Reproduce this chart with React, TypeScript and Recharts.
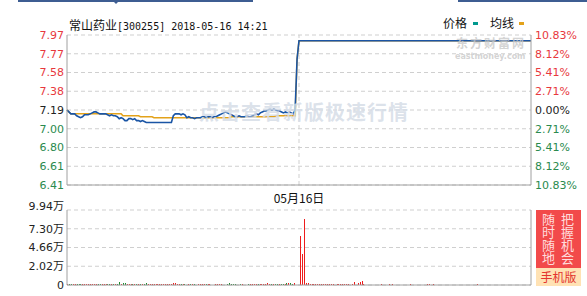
import React from "react"
import {
  LineChart,
  Line,
  BarChart,
  Bar,
  Cell,
  XAxis,
  YAxis,
  CartesianGrid,
  ReferenceLine,
} from "recharts"

// 分时数据：每分钟一个点（09:30-11:30 / 13:00-15:00，共241个）
const price = [
  7.19, 7.17, 7.15, 7.15, 7.15, 7.13, 7.12, 7.11, 7.12, 7.14,
  7.14, 7.14, 7.15, 7.16, 7.17, 7.17, 7.16, 7.15, 7.15, 7.15,
  7.15, 7.14, 7.13, 7.14, 7.13, 7.13, 7.12, 7.10, 7.11, 7.10,
  7.08, 7.08, 7.10, 7.10, 7.09, 7.10, 7.08, 7.08, 7.07, 7.08,
  7.07, 7.06, 7.06, 7.06, 7.06, 7.06, 7.06, 7.06, 7.06, 7.06,
  7.06, 7.06, 7.06, 7.06, 7.06, 7.13, 7.15, 7.15, 7.15, 7.14,
  7.15, 7.14, 7.11, 7.12, 7.11, 7.11, 7.10, 7.11, 7.11, 7.11,
  7.12, 7.12, 7.11, 7.12, 7.12, 7.11, 7.12, 7.12, 7.13, 7.14,
  7.15, 7.16, 7.17, 7.16, 7.15, 7.14, 7.13, 7.12, 7.12, 7.13,
  7.12, 7.12, 7.12, 7.13, 7.12, 7.12, 7.13, 7.14, 7.15, 7.14,
  7.16, 7.17, 7.18, 7.18, 7.19, 7.20, 7.19, 7.20, 7.19, 7.18,
  7.18, 7.17, 7.16, 7.17, 7.16, 7.17, 7.16, 7.15, 7.19, 7.72,
  7.91, 7.91, 7.91, 7.91, 7.91, 7.91, 7.91, 7.91, 7.91, 7.91,
  7.91, 7.91, 7.91, 7.91, 7.91, 7.91, 7.91, 7.91, 7.91, 7.91,
  7.91, 7.91, 7.91, 7.91, 7.91, 7.91, 7.91, 7.91, 7.91, 7.91,
  7.91, 7.91, 7.91, 7.91, 7.91, 7.91, 7.91, 7.91, 7.91, 7.91,
  7.91, 7.91, 7.91, 7.91, 7.91, 7.91, 7.91, 7.91, 7.91, 7.91,
  7.91, 7.91, 7.91, 7.91, 7.91, 7.91, 7.91, 7.91, 7.91, 7.91,
  7.91, 7.91, 7.91, 7.91, 7.91, 7.91, 7.91, 7.91, 7.91, 7.91,
  7.91, 7.91, 7.91, 7.91, 7.91, 7.91, 7.91, 7.91, 7.91, 7.91,
  7.91, 7.91, 7.91, 7.91, 7.91, 7.91, 7.91, 7.91, 7.91, 7.91,
  7.91, 7.91, 7.91, 7.91, 7.91, 7.91, 7.91, 7.91, 7.91, 7.91,
  7.91, 7.91, 7.91, 7.91, 7.91, 7.91, 7.91, 7.91, 7.91, 7.91,
  7.91, 7.91, 7.91, 7.91, 7.91, 7.91, 7.91, 7.91, 7.91, 7.91,
  7.91,
]

const avgPrice = [
  7.19, 7.17, 7.15, 7.15, 7.15, 7.15, 7.15, 7.15, 7.15, 7.15,
  7.15, 7.15, 7.15, 7.15, 7.15, 7.15, 7.15, 7.15, 7.15, 7.15,
  7.15, 7.15, 7.15, 7.15, 7.15, 7.15, 7.15, 7.15, 7.15, 7.13,
  7.13, 7.13, 7.13, 7.13, 7.13, 7.13, 7.13, 7.13, 7.12, 7.12,
  7.12, 7.12, 7.12, 7.12, 7.12, 7.11, 7.11, 7.11, 7.11, 7.11,
  7.11, 7.11, 7.11, 7.11, 7.11, 7.11, 7.11, 7.11, 7.11, 7.11,
  7.11, 7.11, 7.11, 7.11, 7.11, 7.11, 7.11, 7.11, 7.11, 7.11,
  7.11, 7.11, 7.11, 7.11, 7.11, 7.11, 7.11, 7.11, 7.11, 7.11,
  7.11, 7.11, 7.11, 7.11, 7.11, 7.12, 7.12, 7.12, 7.12, 7.12,
  7.12, 7.12, 7.12, 7.12, 7.12, 7.12, 7.12, 7.12, 7.12, 7.12,
  7.12, 7.12, 7.12, 7.12, 7.12, 7.12, 7.12, 7.12, 7.13, 7.13,
  7.13, 7.13, 7.13, 7.13, 7.13, 7.13, 7.13, 7.13, 7.13, 7.72,
  7.91, 7.91, 7.91, 7.91, 7.91, 7.91, 7.91, 7.91, 7.91, 7.91,
  7.91, 7.91, 7.91, 7.91, 7.91, 7.91, 7.91, 7.91, 7.91, 7.91,
  7.91, 7.91, 7.91, 7.91, 7.91, 7.91, 7.91, 7.91, 7.91, 7.91,
  7.91, 7.91, 7.91, 7.91, 7.91, 7.91, 7.91, 7.91, 7.91, 7.91,
  7.91, 7.91, 7.91, 7.91, 7.91, 7.91, 7.91, 7.91, 7.91, 7.91,
  7.91, 7.91, 7.91, 7.91, 7.91, 7.91, 7.91, 7.91, 7.91, 7.91,
  7.91, 7.91, 7.91, 7.91, 7.91, 7.91, 7.91, 7.91, 7.91, 7.91,
  7.91, 7.91, 7.91, 7.91, 7.91, 7.91, 7.91, 7.91, 7.91, 7.91,
  7.91, 7.91, 7.91, 7.91, 7.91, 7.91, 7.91, 7.91, 7.91, 7.91,
  7.91, 7.91, 7.91, 7.91, 7.91, 7.91, 7.91, 7.91, 7.91, 7.91,
  7.91, 7.91, 7.91, 7.91, 7.91, 7.91, 7.91, 7.91, 7.91, 7.91,
  7.91, 7.91, 7.91, 7.91, 7.91, 7.91, 7.91, 7.91, 7.91, 7.91,
  7.91,
]

// 成交量（手）
const volume = [
  1500, 1300, 1200, 1300, 1100, 1300, 1200, 1400, 1100, 1300,
  1200, 1000, 1300, 1200, 1300, 1100, 1200, 1300, 1000, 1200,
  1100, 1300, 1200, 1000, 1100, 1300, 1200, 4400, 1300, 2800,
  2600, 1300, 1200, 1500, 1400, 1100, 1200, 1300, 1000, 1200,
  1100, 2600, 1300, 1200, 1000, 1100, 1200, 1300, 1000, 1100,
  1200, 1000, 1100, 1200, 1000, 2600, 2400, 1200, 1100, 1300,
  1000, 1200, 300, 1100, 1200, 1000, 1300, 300, 1100, 1200,
  1000, 1300, 1100, 1200, 1000, 300, 200, 1200, 1100, 1300,
  1000, 300, 200, 1100, 2600, 1200, 1000, 1100, 300, 200,
  1200, 1100, 300, 200, 1100, 1300, 1000, 1200, 1100, 1000,
  1300, 1200, 1000, 1100, 3200, 1200, 1000, 1100, 1300, 1000,
  1200, 1100, 1000, 1300, 2600, 2800, 2600, 1300, 2800, 300,
  300, 65000, 41000, 87000, 2600, 2400, 1300, 1100, 1000, 1200,
  1100, 1000, 1200, 1300, 1000, 1100, 1200, 1000, 1100, 0,
  1000, 1200, 1100, 1000, 1200, 1100, 1000, 0, 1100, 4000,
  0, 2600, 4000, 5300, 1200, 0, 0, 0, 0, 0,
  0, 0, 0, 1100, 0, 0, 0, 1100, 0, 1000,
  0, 0, 0, 0, 0, 0, 0, 0, 1100, 0,
  0, 0, 0, 0, 0, 0, 0, 1100, 1000, 0,
  1100, 0, 0, 0, 0, 0, 0, 0, 0, 0,
  0, 0, 0, 0, 0, 0, 0, 0, 0, 0,
  0, 0, 0, 1100, 0, 0, 0, 0, 0, 0,
  0, 0, 0, 0, 0, 0, 0, 0, 0, 0,
  0, 0, 0, 0, 0, 0, 0, 0, 0, 0,
  0,
]

const prevClose = 7.19

const priceTicks = [7.97, 7.775, 7.58, 7.385, 7.19, 6.995, 6.8, 6.605, 6.41]
const priceLabels = ["7.97", "7.77", "7.58", "7.38", "7.19", "7.00", "6.80", "6.61", "6.41"]
const pctLabels = ["10.83%", "8.12%", "5.41%", "2.71%", "0.00%", "2.71%", "5.41%", "8.12%", "10.83%"]
const volTicks = [0, 24850, 49700, 74550, 99400]
const volLabels = ["0", "2.02万", "4.66万", "7.30万", "9.94万"]
const dayIndex = 120
const dayLabel = "05月16日"

const RED = "#e8383d"
const GREEN = "#2a8a4e"
const BORDER = "#a0a0a0"
const GRID = "#cfcfcf"
const CJK = "'Noto Sans CJK SC', sans-serif"
const NUM = "'DejaVu Sans', 'Noto Sans CJK SC', sans-serif"

const rows = price.map((p, i) => ({
  i,
  price: p,
  avg: avgPrice[i],
  vol: volume[i],
  up: p >= (i === 0 ? prevClose : price[i - 1]),
}))

function PriceTick(props: any) {
  const { x, y, payload, labels, anchor } = props
  const k = priceTicks.indexOf(payload.value)
  const fill = k < 4 ? RED : k === 4 ? "#222" : GREEN
  return (
    <text x={x} y={y} dy="0.36em" textAnchor={anchor} fill={fill} fontSize={11} fontFamily={NUM}>
      {labels[k]}
    </text>
  )
}

function VolTick(props: any) {
  const { x, y, payload } = props
  const k = volTicks.indexOf(payload.value)
  const shift = k === volTicks.length - 1 ? -4 : 0
  return (
    <text x={x} y={y + shift} dy="0.36em" textAnchor="end" fill="#222" fontSize={11} fontFamily={NUM}>
      {volLabels[k]}
    </text>
  )
}

function DayTick(props: any) {
  const { x, y } = props
  return (
    <text x={x} y={y} dy={16} textAnchor="middle" fill="#111" fontSize={12} fontFamily={CJK}>
      {dayLabel}
    </text>
  )
}

export default function App() {
  return (
    <div
      style={{
        position: "absolute",
        left: 0,
        top: 0,
        width: 587,
        height: 296,
        background: "#fff",
        overflow: "hidden",
        fontFamily: CJK,
      }}
    >
      {/* 顶部标签栏线 */}
      <div style={{ position: "absolute", left: 18, top: 0, width: 235, height: 2, background: "#3d5d92" }} />
      <div
        style={{
          position: "absolute",
          left: 113,
          top: 1,
          width: 0,
          height: 0,
          borderLeft: "3px solid transparent",
          borderRight: "3px solid transparent",
          borderTop: "3px solid #3d5d92",
        }}
      />
      <div style={{ position: "absolute", left: 458, top: 0, width: 129, height: 2, background: "#3d5d92" }} />

      {/* 标题 */}
      <div style={{ position: "absolute", left: 69, top: 15, height: 16, lineHeight: "16px", whiteSpace: "nowrap", color: "#111" }}>
        <span style={{ fontSize: 12, fontFamily: CJK }}>常山药业</span>
        <span style={{ fontSize: 10, fontFamily: "'DejaVu Sans Mono', monospace" }}>[300255] 2018-05-16 14:21</span>
      </div>

      {/* 图例 */}
      <div style={{ position: "absolute", left: 443, top: 15, height: 16, lineHeight: "16px", fontSize: 12, whiteSpace: "nowrap", color: "#111" }}>价格</div>
      <div style={{ position: "absolute", left: 473, top: 22, width: 5, height: 3, background: "#00998e" }} />
      <div style={{ position: "absolute", left: 490, top: 15, height: 16, lineHeight: "16px", fontSize: 12, whiteSpace: "nowrap", color: "#111" }}>均线</div>
      <div style={{ position: "absolute", left: 519, top: 22, width: 5, height: 3, background: "#e3a21a" }} />

      {/* 分时价格 */}
      <div style={{ position: "absolute", left: 0, top: 0 }}>
        <LineChart width={587} height={210} data={rows} margin={{ top: 35, right: 0, bottom: 0, left: 0 }}>
          <CartesianGrid horizontal vertical={false} stroke={GRID} strokeDasharray="4 3" />
          <XAxis
            dataKey="i"
            height={25}
            ticks={[dayIndex]}
            interval={0}
            tick={DayTick}
            tickLine={false}
            tickSize={0}
            axisLine={{ stroke: BORDER }}
          />
          <XAxis xAxisId="top" dataKey="i" orientation="top" height={0} tick={false} tickLine={false} axisLine={{ stroke: BORDER }} />
          <YAxis
            domain={[6.41, 7.97]}
            ticks={priceTicks}
            interval={0}
            width={67}
            tickSize={3}
            tickMargin={0}
            tickLine={false}
            axisLine={{ stroke: BORDER }}
            tick={(p: any) => <PriceTick {...p} labels={priceLabels} anchor="end" />}
          />
          <YAxis
            yAxisId="r"
            orientation="right"
            domain={[6.41, 7.97]}
            ticks={priceTicks}
            interval={0}
            width={56}
            tickSize={4}
            tickMargin={0}
            tickLine={false}
            axisLine={{ stroke: BORDER }}
            tick={(p: any) => <PriceTick {...p} labels={pctLabels} anchor="start" />}
          />
          <ReferenceLine x={dayIndex} stroke={GRID} strokeDasharray="4 3" />
          <Line
            yAxisId="r"
            dataKey="avg"
            type="linear"
            stroke="#e3a21a"
            strokeWidth={1.5}
            dot={false}
            isAnimationActive={false}
          />
          <Line
            dataKey="price"
            type="linear"
            stroke="#1a55a5"
            strokeWidth={1.6}
            dot={false}
            isAnimationActive={false}
          />
        </LineChart>
      </div>

      {/* 水印 */}
      <div
        style={{
          position: "absolute",
          left: 199,
          top: 99,
          fontSize: 20,
          letterSpacing: 1,
          fontWeight: 700,
          lineHeight: "26px",
          whiteSpace: "nowrap",
          color: "rgba(214,221,231,0.85)",
        }}
      >
        点击查看新版极速行情
      </div>
      <div
        style={{
          position: "absolute",
          left: 456,
          top: 36,
          height: 13,
          fontSize: 12,
          fontWeight: 700,
          letterSpacing: 2,
          lineHeight: "13px",
          whiteSpace: "nowrap",
          color: "rgba(200,200,200,0.8)",
        }}
      >
        东方财富网
      </div>
      <div
        style={{
          position: "absolute",
          left: 455,
          top: 53,
          fontSize: 8,
          fontWeight: 700,
          lineHeight: "8px",
          whiteSpace: "nowrap",
          color: "rgba(200,200,200,0.8)",
          fontFamily: "'DejaVu Sans', sans-serif",
        }}
      >
        eastmoney.com
      </div>

      {/* 成交量 */}
      <div style={{ position: "absolute", left: 0, top: 196 }}>
        <BarChart width={587} height={100} data={rows} margin={{ top: 14, right: 0, bottom: 0, left: 0 }}>
          <CartesianGrid horizontal vertical={false} stroke={GRID} strokeDasharray="4 3" />
          <XAxis dataKey="i" height={11} tick={false} tickLine={false} axisLine={{ stroke: BORDER }} />
          <XAxis xAxisId="top" dataKey="i" orientation="top" height={0} tick={false} tickLine={false} axisLine={{ stroke: BORDER }} />
          <YAxis
            domain={[0, 99400]}
            ticks={volTicks}
            interval={0}
            width={67}
            tickSize={3}
            tickMargin={0}
            tickLine={false}
            axisLine={{ stroke: BORDER }}
            tick={VolTick}
          />
          <YAxis
            yAxisId="r"
            orientation="right"
            domain={[0, 99400]}
            width={56}
            tick={false}
            tickLine={false}
            axisLine={{ stroke: BORDER }}
          />
          <Bar dataKey="vol" barSize={1} isAnimationActive={false} shapeRendering="crispEdges">
            {rows.map((r) => (
              <Cell key={r.i} fill={r.up ? "#ee1c1c" : "#1d8a2e"} shapeRendering="crispEdges" />
            ))}
          </Bar>
        </BarChart>
      </div>

      {/* 手机版广告 */}
      <div style={{ position: "absolute", left: 536, top: 210, width: 45, height: 58, background: "#f24a4a" }}>
        <div style={{ position: "absolute", left: 6, top: 2, width: 13, fontSize: 13, lineHeight: "13px", color: "#ffdcdc" }}>
          随时随地
        </div>
        <div style={{ position: "absolute", left: 25, top: 2, width: 13, fontSize: 13, lineHeight: "13px", color: "#ffdcdc" }}>
          把握机会
        </div>
      </div>
      <div
        style={{
          position: "absolute",
          left: 536,
          top: 268,
          width: 45,
          height: 18,
          background: "#ffe2b4",
          color: "#e3342f",
          fontSize: 12,
          lineHeight: "18px",
          textAlign: "center",
          whiteSpace: "nowrap",
        }}
      >
        手机版
      </div>
    </div>
  )
}
